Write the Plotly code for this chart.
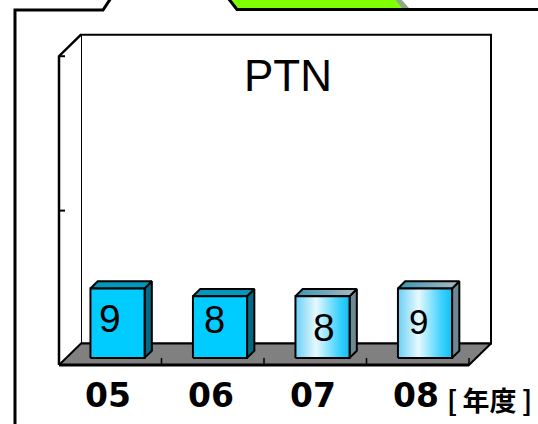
import plotly.graph_objects as go

# ---- data ----
years = ["05", "06", "07", "08"]
counts = [9, 8, 8, 9]
axis_max = 40
axis_ticks = [20, 40]
title_text = "PTN"
unit_text = "[\u2009年度\u2009]"

# ---- styling ----
W, H = 538, 424
X0_PX, Y0_PX = 59, 365          # front-left corner of the floor (pixels)
CAT_PX, VAL_PX = 102.5, 7.72     # pixels per category / per value unit
DEPTH_PX = (22, 21.5)            # oblique depth offset (pixels)
BAR_HALF = 0.264                 # half bar width (category units)
BAR_D0, BAR_D1 = 0.33, 0.66      # bar front/back depth (0..1)

solid_style = dict(front="#00CCFF", top="#0397BC", side="#026A82")
grad_style = dict(
    front=[[0, "#6ACFF4"], [0.38, "#E6F9FF"], [0.8, "#3FD2FF"], [1, "#11BFEF"]],
    top=[[0, "#3B97B5"], [1, "#AEB9BF"]],
    side="#6F8790",
)
bar_styles = [solid_style, solid_style, grad_style, grad_style]
label_nudge = [(-8, 5), (-6, 7), (1, 0), (-7, 2)]   # (x, y) pixel nudges
label_sizes = [39, 38, 39, 35]

xr = [-0.5 - X0_PX / CAT_PX, -0.5 + (W - X0_PX) / CAT_PX]
yr = [-(H - Y0_PX) / VAL_PX, Y0_PX / VAL_PX]
DX = DEPTH_PX[0] / CAT_PX
DY = DEPTH_PX[1] / VAL_PX


def proj(pts):
    xs = [c + d * DX for c, v, d in pts]
    ys = [v + d * DY for c, v, d in pts]
    return xs + xs[:1], ys + ys[:1]


fig = go.Figure()


def poly(pts, fill=None, gradient=None, lw=2, lc="black", closed=True):
    xs, ys = proj(pts)
    if not closed:
        xs, ys = xs[:-1], ys[:-1]
    kw = dict(x=xs, y=ys, mode="lines", hoverinfo="skip", showlegend=False,
              line=dict(color=lc, width=lw))
    if fill is not None or gradient is not None:
        kw["fill"] = "toself"
        if gradient is not None:
            kw["fillgradient"] = dict(type="horizontal", colorscale=gradient)
        else:
            kw["fillcolor"] = fill
    if lw == 0:
        kw["line"] = dict(width=0, color="rgba(0,0,0,0)")
    fig.add_trace(go.Scatter(**kw))


left, right = -0.5, len(years) - 0.5

# walls
poly([(left, 0, 1), (right, 0, 1), (right, axis_max, 1), (left, axis_max, 1)],
     fill="white", lw=2)
poly([(left, 0, 0), (left, axis_max, 0), (left, axis_max, 1), (left, 0, 1)],
     fill="white", lw=0)
# floor
poly([(left, 0, 0), (right, 0, 0), (right, 0, 1), (left, 0, 1)],
     fill="#808080", lw=2)
poly([(left, 0, 0), (right, 0, 0)], lw=3, closed=False)

# value axis
poly([(left, 0, 0), (left, axis_max, 0), (left, axis_max, 1)], lw=2.5, closed=False)
for t in axis_ticks:
    poly([(left, t, 0), (left + 6 / CAT_PX, t, 0)], lw=2, closed=False)

# category ticks on the floor edge
for k in range(1, len(years) + 1):
    c = left + k
    poly([(c, 0, 0), (c, 7 / VAL_PX, 0)], lw=1.5, closed=False)

# bars
for i, (v, st) in enumerate(zip(counts, bar_styles)):
    a, b = i - BAR_HALF, i + BAR_HALF
    side = [(b, 0, BAR_D0), (b, 0, BAR_D1), (b, v, BAR_D1), (b, v, BAR_D0)]
    top = [(a, v, BAR_D0), (b, v, BAR_D0), (b, v, BAR_D1), (a, v, BAR_D1)]
    front = [(a, 0, BAR_D0), (b, 0, BAR_D0), (b, v, BAR_D0), (a, v, BAR_D0)]
    poly(side, fill=st["side"])
    if isinstance(st["top"], list):
        poly(top, gradient=st["top"])
    else:
        poly(top, fill=st["top"])
    if isinstance(st["front"], list):
        poly(front, gradient=st["front"])
    else:
        poly(front, fill=st["front"])

annotations = []
for i, v in enumerate(counts):
    cx = i + BAR_D0 * DX
    cy = v / 2 + BAR_D0 * DY
    nx, ny = label_nudge[i]
    annotations.append(dict(
        x=cx, y=cy, xref="x", yref="y", text=str(v), showarrow=False,
        xshift=nx, yshift=ny, xanchor="center", yanchor="middle",
        font=dict(family="Liberation Sans, Arial", size=label_sizes[i], color="black")))

for i, yy in enumerate(years):
    annotations.append(dict(
        x=i, y=0, xref="x", yref="y", text=yy, showarrow=False,
        xshift=-2, yshift=-30, xanchor="center", yanchor="middle",
        font=dict(family="DejaVu Sans", size=33, color="black", weight="bold")))

annotations.append(dict(
    x=489 / W, y=1 - 399 / H, xref="paper", yref="paper", text=unit_text,
    showarrow=False, xanchor="center", yanchor="middle",
    font=dict(family="Noto Sans CJK JP", size=27, color="black", weight="bold")))

annotations.append(dict(
    x=287.5 / W, y=1 - 76 / H, xref="paper", yref="paper", text=title_text,
    showarrow=False, xanchor="center", yanchor="middle",
    font=dict(family="Liberation Sans, Arial", size=44, color="black")))


def P(x, y):
    return f"{x / W:.5f},{1 - y / H:.5f}"


shapes = [
    # green tab at the top
    dict(type="path", xref="paper", yref="paper",
         path=f"M{P(229, -2)} L{P(396, -2)} L{P(404, 8)} L{P(237, 8)} Z",
         fillcolor="#80FF00", line=dict(width=0)),
    dict(type="path", xref="paper", yref="paper",
         path=f"M{P(394, -2)} L{P(400, -2)} L{P(409, 8)} L{P(402, 8)} Z",
         fillcolor="#8FA88A", line=dict(width=0)),
    # outer frame
    dict(type="path", xref="paper", yref="paper",
         path=f"M{P(15, 430)} L{P(15, 10)} L{P(103, 10)} L{P(111, -2)}",
         line=dict(color="black", width=3)),
    dict(type="path", xref="paper", yref="paper",
         path=f"M{P(228, -2)} L{P(237, 9.5)} L{P(545, 9.5)}",
         line=dict(color="black", width=3)),
]

fig.update_layout(
    width=W, height=H,
    margin=dict(l=0, r=0, t=0, b=0),
    paper_bgcolor="white", plot_bgcolor="white",
    xaxis=dict(range=xr, visible=False, fixedrange=True),
    yaxis=dict(range=yr, visible=False, fixedrange=True),
    annotations=annotations,
    shapes=shapes,
    showlegend=False,
)

fig.write_html("out.html")
